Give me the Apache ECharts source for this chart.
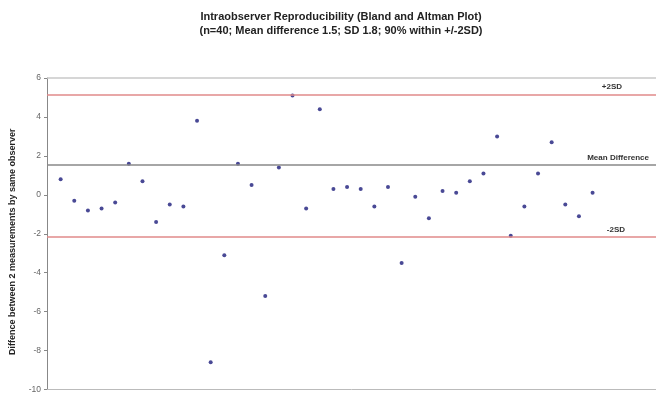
<!DOCTYPE html>
<html><head><meta charset="utf-8">
<script src="https://cdn.jsdelivr.net/npm/echarts@6/dist/echarts.min.js"></script>
<style>html,body{margin:0;padding:0;background:#fff}#c{width:656px;height:394px}</style>
</head><body><div id="c"></div>
<script>
const titleLines = ["Intraobserver Reproducibility (Bland and Altman Plot)", "(n=40; Mean difference 1.5; SD 1.8; 90% within +/-2SD)"];
const yAxisName = "Diffence between 2 measurements by same observer";
const differences = [0.8,-0.3,-0.8,-0.7,-0.4,1.6,0.7,-1.4,-0.5,-0.6,3.8,-8.6,-3.1,1.6,0.5,-5.2,1.4,5.1,-0.7,4.4,0.3,0.4,0.3,-0.6,0.4,-3.5,-0.1,-1.2,0.2,0.1,0.7,1.1,3.0,-2.1,-0.6,1.1,2.7,-0.5,-1.1,0.1];
const refValues = [5.16, 1.53, -2.13];
const refLabels = ["+2SD", "Mean Difference", "-2SD"];
const yTicks = [-10,-8,-6,-4,-2,0,2,4,6];

const points = differences.map((v,i)=>[i+1, v]);
const lblStyle = {fontFamily:'Liberation Sans', fontWeight:'bold', fontSize:8, color:'#333'};
const chart = echarts.init(document.getElementById('c'));
chart.setOption({
  animation:false,
  title:{text:titleLines.join('\n'), left:336, textAlign:'center', top:5,
    textStyle:{fontFamily:'Liberation Sans', fontWeight:'bold', fontSize:11, lineHeight:14, color:'#222'}},
  grid:{left:47, right:0, top:78, bottom:2},
  xAxis:{type:'value', min:0, max:44.65, axisLabel:{show:false}, axisTick:{show:false}, splitLine:{show:false},
    axisLine:{onZero:false, lineStyle:{color:'#bbb'}}},
  yAxis:{type:'value', min:yTicks[0], max:yTicks[yTicks.length-1], interval:2,
    name:yAxisName, nameLocation:'middle', nameGap:30, nameRotate:90,
    nameTextStyle:{fontFamily:'Liberation Sans', fontWeight:'bold', fontSize:9, color:'#222', padding:[0,16,0,0]},
    axisLine:{show:true, lineStyle:{color:'#888'}}, axisTick:{show:true, length:3, lineStyle:{color:'#888'}},
    axisLabel:{fontFamily:'Liberation Sans', fontSize:8.5, color:'#666', margin:6},
    splitLine:{show:false}},
  series:[{type:'scatter', data:points, symbol:'circle', symbolSize:4, itemStyle:{color:'#1c1c7a'},
    markLine:{silent:true, symbol:'none', animation:false,
      data:[
        {yAxis:6, lineStyle:{color:'#c8c8c8', width:1.5, type:'solid'}, label:{show:false}},
        {yAxis:refValues[0], lineStyle:{color:'#e08a8a', width:1.5, type:'solid'},
          label:Object.assign({show:true, formatter:refLabels[0], position:'insideEndTop', distance:[34,4]}, lblStyle)},
        {yAxis:refValues[1], lineStyle:{color:'#888', width:1.5, type:'solid'},
          label:Object.assign({show:true, formatter:refLabels[1], position:'insideEndTop', distance:[7,3]}, lblStyle)},
        {yAxis:refValues[2], lineStyle:{color:'#e08a8a', width:1.5, type:'solid'},
          label:Object.assign({show:true, formatter:refLabels[2], position:'insideEndTop', distance:[31,2]}, lblStyle)}
      ]}
  }]
});
</script></body></html>
